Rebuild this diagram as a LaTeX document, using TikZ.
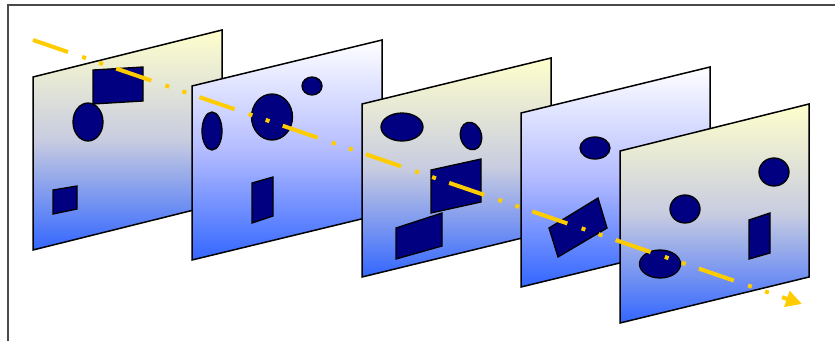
\documentclass[tikz,border=0pt]{standalone}
\usepackage{tikz}
\usetikzlibrary{arrows.meta,calc}

\definecolor{sheetblue}{HTML}{3366FF}
\definecolor{sheetcream}{HTML}{FFFFCC}
\definecolor{creammid}{HTML}{C8CCE0}
\definecolor{whitemid}{HTML}{B4BCFF}
\definecolor{blobnavy}{HTML}{000080}
\definecolor{flowgold}{HTML}{FFCC00}
\definecolor{framegray}{HTML}{4A4A4A}

\begin{document}
\begin{tikzpicture}[
  x=1pt, y=-1pt,
  creamsheet/.style={
    draw=black, line width=1.5pt, line join=miter,
    top color=sheetcream, bottom color=sheetblue, middle color=creammid
  },
  whitesheet/.style={
    draw=black, line width=1.5pt, line join=miter,
    top color=white, bottom color=sheetblue, middle color=whitemid
  },
  blob/.style={draw=black, line width=1.3pt, fill=blobnavy},
  flow/.style={
    draw=flowgold, line width=4pt, line cap=butt,
    dash pattern=on 37pt off 15pt on 4pt off 14pt on 4pt off 14pt,
    -{Triangle[length=16pt,width=16pt]}
  }
]
\useasboundingbox (0,0) rectangle (835,340);

% frame
\draw[framegray, line width=1.5pt] (8,345) |- (840,5);

% sheet 1
\draw[creamsheet] (33,77) -- ++(189,-47) -- ++(0,173) -- ++(-189,47) -- cycle;
\draw[blob] (93,70) -- (143,67) -- (143,101) -- (93,104) -- cycle;
\draw[blob] (88,122) ellipse [x radius=15, y radius=19];
\draw[blob] (53,190) -- (77,186) -- (77,209) -- (53,214) -- cycle;

% sheet 2
\draw[whitesheet] (192,86) -- ++(190,-46) -- ++(0,174) -- ++(-190,46) -- cycle;
\draw[blob] (212,131) ellipse [x radius=10, y radius=19];
\draw[blob] (272,117) ellipse [x radius=20.5, y radius=23];
\draw[blob] (312,86) ellipse [x radius=10, y radius=9];
\draw[blob] (252,183) -- (273,177) -- (273,216) -- (252,223) -- cycle;

% sheet 3
\draw[creamsheet] (362,104) -- ++(189,-46) -- ++(0,173) -- ++(-189,46) -- cycle;
\draw[blob] (402,127) ellipse [x radius=21, y radius=14];
\draw[blob, rotate around={15:(471,136)}] (471,136) ellipse [x radius=10.5, y radius=14];
\draw[blob] (431,170) -- (481,159) -- (481,202) -- (431,213) -- cycle;
\draw[blob] (396,228) -- (442,213) -- (442,246) -- (396,259) -- cycle;

% sheet 4
\draw[whitesheet] (521,113) -- ++(189,-46) -- ++(0,174) -- ++(-189,46) -- cycle;
\draw[blob] (595,148) ellipse [x radius=15, y radius=11];
\draw[blob] (549,228) -- (598,198) -- (607,228) -- (558,257) -- cycle;

% sheet 5
\draw[creamsheet] (620,151) -- ++(189,-47) -- ++(0,173) -- ++(-189,46) -- cycle;
\draw[blob] (774,172) ellipse [x radius=15, y radius=14];
\draw[blob] (685,209) ellipse [x radius=15, y radius=14];
\draw[blob] (749,220) -- (770,213) -- (770,253) -- (749,259) -- cycle;
\draw[blob] (660,264) ellipse [x radius=20.5, y radius=14];

% direction of travel
\coordinate (start) at (33,40);
\coordinate (finish) at (802,304);
\draw[flow] (start) -- (finish);

\end{tikzpicture}
\end{document}
